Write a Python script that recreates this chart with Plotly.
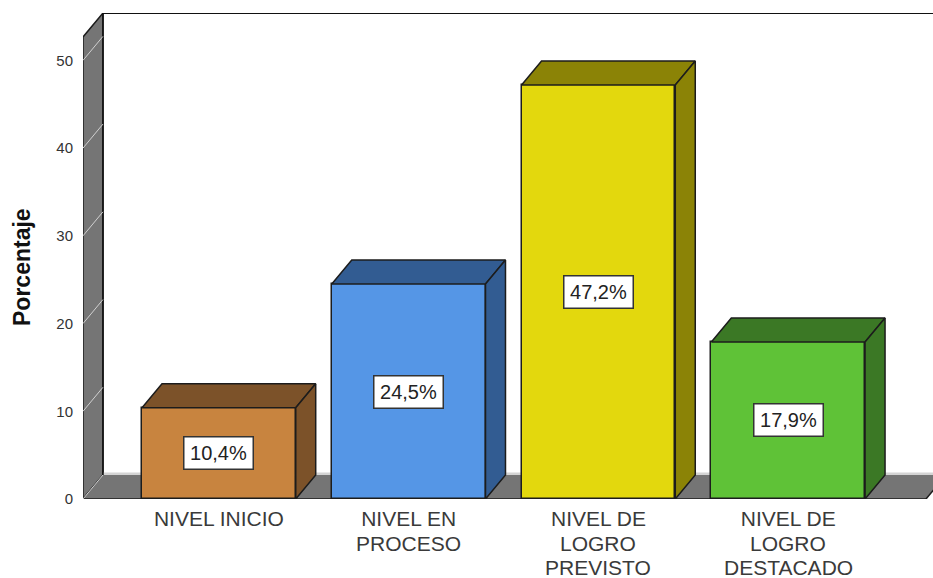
import plotly.graph_objects as go

# Data
categories = [["NIVEL INICIO"], ["NIVEL EN", "PROCESO"], ["NIVEL DE", "LOGRO", "PREVISTO"], ["NIVEL DE", "LOGRO", "DESTACADO"]]
values = [10.4, 24.5, 47.2, 17.9]
value_labels = ["10,4%", "24,5%", "47,2%", "17,9%"]
front_colors = ["#C8843F", "#5596E6", "#E3D80D", "#5FC237"]
shade_colors = ["#7C5229", "#325C92", "#8B8306", "#3B7825"]
y_ticks = [0, 10, 20, 30, 40, 50]

# Geometry in axis units (one category = 190 px, one percent = 8.77 px)
BAR_W = 0.81
DX = 20 / 190
DY = 24 / 8.77
X_MIN, X_MAX = -0.716, 3.763
X_FRONT_END = 3.726
Y_MAX = 55.4
EDGE = "#1c1c1c"
WALL = "#757575"

fig = go.Figure()
xs = list(range(len(values)))

fig.add_trace(go.Bar(
    x=xs, y=values, width=BAR_W,
    marker=dict(color=front_colors, line=dict(color=EDGE, width=1.5)),
    showlegend=False, hoverinfo="skip",
))

for i, v in enumerate(values):
    l, r = i - BAR_W / 2, i + BAR_W / 2
    # top face
    fig.add_trace(go.Scatter(
        x=[l, r, r + DX, l + DX, l], y=[v, v, v + DY, v + DY, v],
        mode="lines", fill="toself", fillcolor=shade_colors[i],
        line=dict(color=EDGE, width=1.5), showlegend=False, hoverinfo="skip",
    ))
    # side face
    fig.add_trace(go.Scatter(
        x=[r, r + DX, r + DX, r, r], y=[v, v + DY, DY, 0, v],
        mode="lines", fill="toself", fillcolor=shade_colors[i],
        line=dict(color=EDGE, width=1.5), showlegend=False, hoverinfo="skip",
    ))

def poly(pts):
    return "M " + " L ".join(f"{x} {y}" for x, y in pts) + " Z"

shapes = []
# left wall
shapes.append(dict(type="path", xref="x", yref="y", layer="below", fillcolor=WALL,
                   line=dict(color=EDGE, width=1.5),
                   path=poly([(X_MIN, 0), (X_MIN + DX, DY), (X_MIN + DX, Y_MAX), (X_MIN, Y_MAX - DY)])))
# pale strip behind the floor
shapes.append(dict(type="line", xref="x", yref="y", layer="below",
                   x0=X_MIN + DX, x1=X_MAX, y0=DY + 0.1, y1=DY + 0.1,
                   line=dict(color="#D4D4D4", width=3)))
# floor
shapes.append(dict(type="path", xref="x", yref="y", layer="below", fillcolor=WALL,
                   line=dict(color=WALL, width=0),
                   path=poly([(X_MIN, 0), (X_MIN + DX, DY), (X_FRONT_END + DX, DY), (X_FRONT_END, 0)])))
# floor front edge
shapes.append(dict(type="line", xref="x", yref="y", layer="below",
                   x0=X_MIN, x1=X_FRONT_END, y0=0, y1=0, line=dict(color=EDGE, width=1.5)))
shapes.append(dict(type="line", xref="x", yref="y", layer="below",
                   x0=X_FRONT_END, x1=X_FRONT_END + DX, y0=0, y1=DY, line=dict(color=EDGE, width=1.5)))
# back wall edges
shapes.append(dict(type="line", xref="x", yref="y", layer="below",
                   x0=X_MIN + DX, x1=X_MAX, y0=Y_MAX, y1=Y_MAX, line=dict(color="#111111", width=2)))
shapes.append(dict(type="line", xref="x", yref="y", layer="below",
                   x0=X_MIN + DX, x1=X_MIN + DX, y0=DY, y1=Y_MAX, line=dict(color="#111111", width=1.5)))
# grid lines on the wall
for t in y_ticks:
    shapes.append(dict(type="line", xref="x", yref="y", layer="below",
                       x0=X_MIN, x1=X_MIN + DX, y0=t, y1=t + DY,
                       line=dict(color="#D0D0D0", width=1)))

annotations = []
for i, v in enumerate(values):
    annotations.append(dict(
        x=i, y=v / 2, xref="x", yref="y", text=value_labels[i], showarrow=False,
        font=dict(family="Liberation Sans", size=20, color="#222222"),
        bgcolor="#FFFFFF", bordercolor="#333333", borderwidth=1.5,
        width=66, height=29, align="center", valign="middle",
    ))
    for j, line in enumerate(categories[i][1:], start=1):
        annotations.append(dict(
            x=i, y=0, xref="x", yref="y", text=line, showarrow=False,
            yanchor="middle", yshift=-20 - 24 * j,
            font=dict(family="Liberation Sans", size=21, color="#3A3A3A"),
        ))
annotations.append(dict(
    x=(22 - 83) / 850, y=(499 - 267) / 486, xref="paper", yref="paper",
    xanchor="center", yanchor="middle",
    text="<b>Porcentaje</b>", textangle=-90,
    showarrow=False, font=dict(family="Liberation Sans", size=23, color="#111111"),
))

fig.update_layout(
    width=933, height=578,
    margin=dict(l=83, r=0, t=13, b=79),
    paper_bgcolor="white", plot_bgcolor="white",
    shapes=shapes, annotations=annotations,
    bargap=0, showlegend=False,
    xaxis=dict(range=[X_MIN, X_MAX], tickmode="array", tickvals=xs,
               ticktext=[c[0] for c in categories], showgrid=False, zeroline=False,
               showline=False, ticks="", ticklabelstandoff=5,
               tickfont=dict(family="Liberation Sans", size=21, color="#3A3A3A")),
    yaxis=dict(range=[0, Y_MAX], tickmode="array", tickvals=y_ticks,
               showgrid=False, zeroline=False, showline=False, ticks="",
               ticklabelstandoff=9,
               tickfont=dict(family="Liberation Sans", size=15, color="#333333")),
)

fig.write_html("out.html", config=dict(displayModeBar=False),
               post_script="document.body.style.margin='0';document.body.style.overflow='hidden';")
